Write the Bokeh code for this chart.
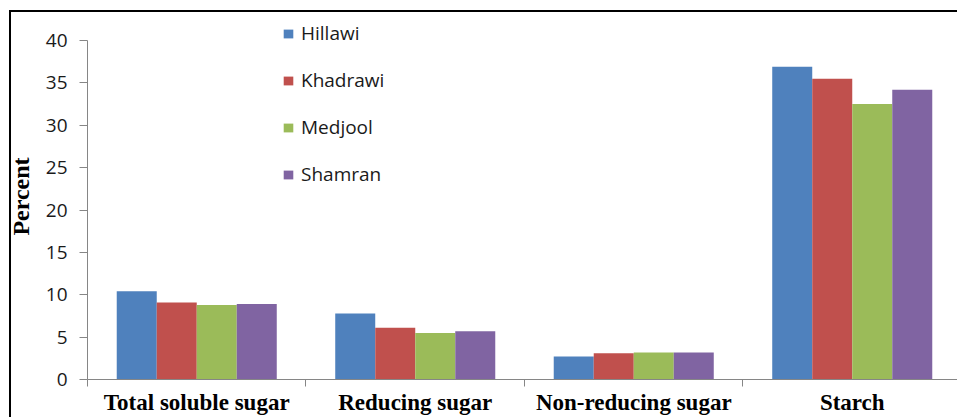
import numpy as np
from bokeh.plotting import figure
from bokeh.models import ColumnDataSource, Range1d, FixedTicker, Legend, LegendItem
from bokeh.transform import dodge
from bokeh.embed import file_html
from bokeh.resources import INLINE

categories = ["Total soluble sugar", "Reducing sugar", "Non-reducing sugar", "Starch"]
series_names = ["Hillawi", "Khadrawi", "Medjool", "Shamran"]
hillawi = [10.4, 7.8, 2.7, 36.9]
khadrawi = [9.1, 6.1, 3.1, 35.5]
medjool = [8.8, 5.5, 3.2, 32.5]
shamran = [8.9, 5.7, 3.2, 34.2]
colors = ["#4F81BD", "#C0504D", "#9BBB59", "#8064A2"]
y_ticks = [0, 5, 10, 15, 20, 25, 30, 35, 40]

centers = list(np.arange(len(categories)) + 0.5)
src = ColumnDataSource(dict(xc=centers, Hillawi=hillawi, Khadrawi=khadrawi,
                            Medjool=medjool, Shamran=shamran))

bar_w = 0.1831
p = figure(width=957, height=417, x_range=Range1d(0, 3.9817), y_range=Range1d(0, 43.186),
           output_backend="svg", toolbar_location=None,
           min_border_left=87, min_border_right=0, min_border_top=13, min_border_bottom=38,
           background_fill_alpha=0, border_fill_alpha=0, outline_line_color=None)
# chart-area border (left and top edges), drawn behind the transparent canvas
p.styles = {
    "background": ("linear-gradient(#000, #000) 9px 10px / 2px 100% no-repeat, "
                   "linear-gradient(#000, #000) 9px 10px / 100% 2px no-repeat, #fff"),
}

renderers = []
offsets = [-1.5, -0.5, 0.5, 1.5]
for name, col, off in zip(series_names, colors, offsets):
    r = p.vbar(x=dodge("xc", off * bar_w, range=p.x_range), top=name, width=bar_w,
               source=src, fill_color=col, line_color=None)
    renderers.append(r)

p.xgrid.visible = False
p.ygrid.visible = False

# y axis
ya = p.yaxis[0]
ya.ticker = FixedTicker(ticks=y_ticks)
ya.bounds = (0, 40)
ya.axis_line_color = "#868686"
ya.major_tick_line_color = "#868686"
ya.major_tick_out = 8
ya.major_tick_in = 0
ya.minor_tick_line_color = None
ya.major_label_standoff = 12
ya.major_label_text_font = "Open Sans"
ya.major_label_text_font_size = "19px"
ya.major_label_text_color = "#1a1a1a"
ya.axis_label = "Percent"
ya.axis_label_text_font = "Liberation Serif"
ya.axis_label_text_font_style = "bold"
ya.axis_label_text_font_size = "24px"
ya.axis_label_text_color = "black"
ya.axis_label_standoff = 9

# x axis
xa = p.xaxis[0]
xa.ticker = FixedTicker(ticks=centers, minor_ticks=list(range(len(categories))))
xa.major_label_overrides = {float(c): lab for c, lab in zip(centers, categories)}
xa.axis_line_color = "#868686"
xa.major_tick_line_color = None
xa.major_tick_out = 0
xa.major_tick_in = 0
xa.minor_tick_line_color = "#868686"
xa.minor_tick_out = 7
xa.minor_tick_in = 0
xa.major_label_standoff = 3
xa.major_label_text_font = "Liberation Serif"
xa.major_label_text_font_style = "bold"
xa.major_label_text_font_size = "23px"
xa.major_label_text_color = "black"

legend = Legend(items=[LegendItem(label=n, renderers=[r]) for n, r in zip(series_names, renderers)],
                location=(195, 192), orientation="vertical",
                glyph_width=12, glyph_height=11, label_standoff=7, spacing=21,
                padding=0, margin=0, border_line_color=None, background_fill_alpha=0,
                label_text_font="Open Sans", label_text_font_size="19px",
                label_text_color="#1a1a1a")
p.add_layout(legend)

open("out.html", "w").write(file_html(p, INLINE))
